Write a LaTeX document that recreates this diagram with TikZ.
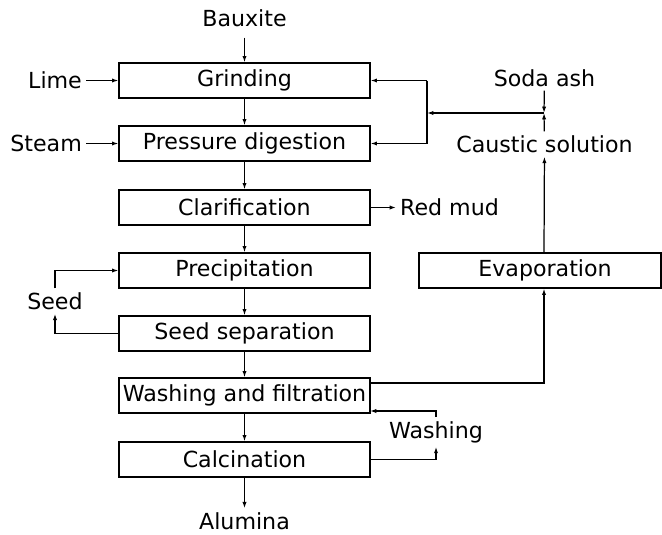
\documentclass[tikz,border=0pt]{standalone}
\usepackage{fontspec}
\setmainfont{DejaVu Sans}
\usetikzlibrary{arrows.meta}

\begin{document}
\begin{tikzpicture}[x=0.02cm, y=-0.02cm,
  line width=0.7pt,
  every node/.style={font=\fontsize{12.6}{15}\selectfont},
  stage/.style={draw, minimum width=5.02cm, minimum height=0.7cm, inner sep=0pt},
  flow/.style={inner sep=2pt},
  arr/.style={-{Latex[length=3.6pt,width=2.4pt]}}]
\useasboundingbox (0,0) rectangle (662,534);
\node [stage] (grinding) at (244.5,80.5) {Grinding};
\node [stage] (digestion) at (244.5,143.5) {Pressure digestion};
\node [stage] (clarif) at (244.5,207.5) {Clarification};
\node [stage] (precip) at (244.5,270.5) {Precipitation};
\node [stage] (seedsep) at (244.5,333.5) {Seed separation};
\node [stage] (washfilt) at (244.5,395.5) {Washing and filtration};
\node [stage] (calcin) at (244.5,459.5) {Calcination};
\node [stage, minimum width=4.84cm] (evap) at (540,270.5) {\hspace*{0.2cm}Evaporation};
\node [flow] (bauxite) at (244.5,18) {Bauxite};
\node [flow] (alumina) at (244.5,521) {Alumina};
\node [flow, anchor=east] (lime) at (86,80.5) {Lime};
\node [flow, anchor=east] (steam) at (86,143.5) {Steam};
\node [flow, anchor=west] (redmud) at (396,207.5) {Red mud};
\node [flow] (sodaash) at (544.5,78) {Soda ash};
\node [flow] (caustic) at (544.5,144) {Caustic solution};
\node [flow] (seed) at (55,301) {Seed};
\node [flow] (washtxt) at (436,432) {Washing};
\coordinate (mix) at (544,113);
\coordinate (ret) at (427,113);
\coordinate (wout) at (370,383);
\coordinate (wback) at (370,411);
\draw [arr, shorten <=4pt] (bauxite) -- (grinding);
\draw [arr] (grinding) -- (digestion);
\draw [arr] (digestion) -- (clarif);
\draw [arr] (clarif) -- (precip);
\draw [arr] (precip) -- (seedsep);
\draw [arr] (seedsep) -- (washfilt);
\draw [arr] (washfilt) -- (calcin);
\draw [arr] (calcin) -- (alumina);
\draw [arr] (lime) -- (grinding);
\draw [arr] (steam) -- (digestion);
\draw [arr] (clarif) -- (redmud);
\draw [arr] (sodaash) -- (mix);
\draw [arr] (caustic) -- (mix);
\draw [arr] (mix) -- (ret);
\draw (ret |- grinding) -- (ret |- digestion);
\draw [arr] (ret |- grinding) -- (grinding);
\draw [arr] (ret |- digestion) -- (digestion);
\draw [arr] (evap.north -| mix) -- (caustic);
\draw [arr] (wout) -| (evap.south -| mix);
\draw [arr] (seedsep.west) -| (seed);
\draw [arr] (seed) |- (precip);
\draw [arr] (calcin.east) -| (washtxt);
\draw [arr] (washtxt) |- (wback);
\end{tikzpicture}
\end{document}
